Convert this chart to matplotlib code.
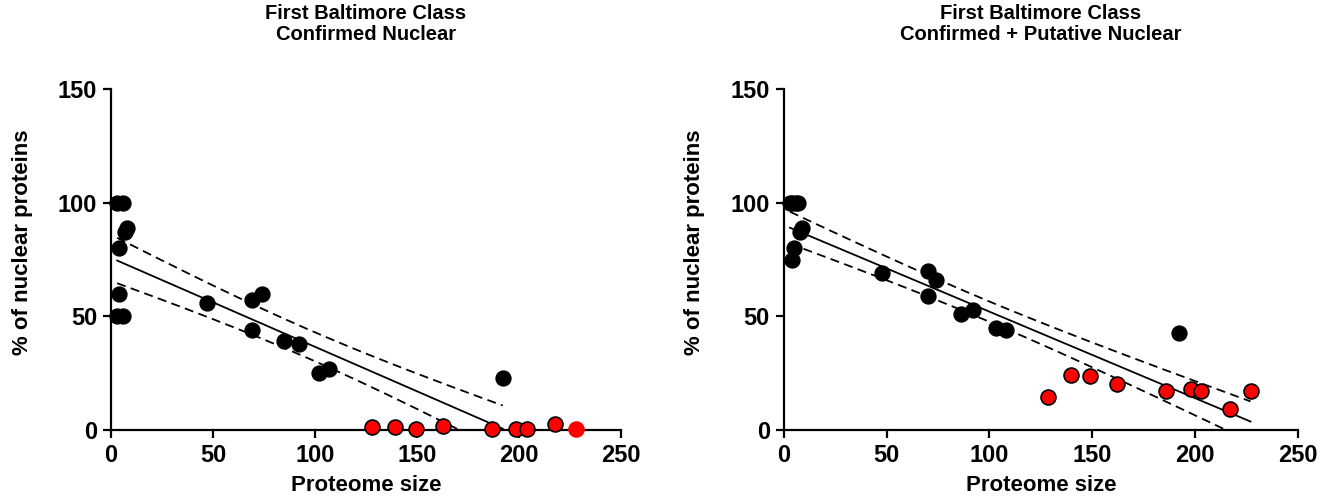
import numpy as np
import matplotlib
matplotlib.use("Agg")
import matplotlib.pyplot as plt

plt.rcParams['font.family'] = ['Liberation Sans', 'DejaVu Sans']
plt.rcParams['font.weight'] = 'bold'

# Confirmed nuclear (left)
conf_black_x = [3, 6, 7, 8, 4, 4, 3, 6, 47, 69, 74, 69, 85, 92, 102, 107, 192]
conf_black_y = [100, 100, 87, 89, 80, 60, 50, 50, 56, 57, 60, 44, 39, 38, 25, 27, 23]
conf_red_x = [128, 139, 149.5, 162.5, 186.5, 198.5, 204, 217.5]
conf_red_y = [1.2, 1.2, 0.4, 1.8, 0.4, 0.4, 0.4, 2.6]
conf_extra_x = [228]
conf_extra_y = [0.3]

# Confirmed + putative nuclear (right)
put_black_x = [3, 4, 6, 7, 8, 9, 5, 4, 48, 70, 74, 70, 86, 92, 103, 108, 192]
put_black_y = [100, 100, 100, 100, 87, 89, 80, 75, 69, 70, 66, 59, 51, 53, 45, 44, 42.5]
put_red_x = [128.5, 139.5, 149, 162, 186, 198, 203, 217, 227]
put_red_y = [14.7, 24.2, 23.8, 20.1, 17.2, 18.0, 17.2, 9.1, 17.2]

xticks = [0, 50, 100, 150, 200, 250]
yticks = [0, 50, 100, 150]

T95 = {24: 2.064}


def fit_band(x, y, xmin, xmax, n=200):
    # least squares line with 95% confidence band of the mean
    x = np.asarray(x, float)
    y = np.asarray(y, float)
    slope, icpt = np.polyfit(x, y, 1)
    resid = y - (slope * x + icpt)
    dof = len(x) - 2
    s = np.sqrt(np.sum(resid ** 2) / dof)
    sxx = np.sum((x - x.mean()) ** 2)
    xs = np.linspace(xmin, xmax, n)
    ys = slope * xs + icpt
    half = T95.get(dof, 2.06) * s * np.sqrt(1 / len(x) + (xs - x.mean()) ** 2 / sxx)
    return xs, ys, ys - half, ys + half


def draw_fit(ax, xs, ys, lo, hi):
    ax.plot(xs, ys, color='black', lw=1.3)
    ax.plot(xs, lo, color='black', lw=1.3, ls=(0, (5, 3)))
    ax.plot(xs, hi, color='black', lw=1.3, ls=(0, (5, 3)))


def style(ax, title):
    ax.set_xlim(0, 250)
    ax.set_ylim(0, 150)
    ax.set_xticks(xticks)
    ax.set_yticks(yticks)
    for side in ['top', 'right']:
        ax.spines[side].set_visible(False)
    for side in ['left', 'bottom']:
        ax.spines[side].set_linewidth(1.6)
    ax.tick_params(width=1.6, length=6, labelsize=17, pad=4)
    for lab in ax.get_xticklabels() + ax.get_yticklabels():
        lab.set_fontweight('bold')
    ax.set_xlabel('Proteome size', fontsize=16, fontweight='bold', labelpad=6)
    ax.set_ylabel('% of nuclear proteins', fontsize=16, fontweight='bold')
    ax.yaxis.set_label_coords(-0.153, 0.55)
    ax.set_title(title, fontsize=14.5, fontweight='bold', pad=35, linespacing=1.15)


fig = plt.figure(figsize=(13.33, 5), dpi=100)
ax1 = fig.add_axes([0.0833, 0.14, 0.3826, 0.682])
ax2 = fig.add_axes([0.588, 0.14, 0.3856, 0.682])

# left: fit on every point, drawn across the black x range
left_x = conf_black_x + conf_red_x + conf_extra_x
left_y = conf_black_y + conf_red_y + conf_extra_y
draw_fit(ax1, *fit_band(left_x, left_y, min(conf_black_x), max(conf_black_x)))
ax1.scatter(conf_black_x, conf_black_y, s=115, color='black', zorder=3, clip_on=False)
ax1.scatter(conf_red_x, conf_red_y, s=115, color='red', edgecolors='black',
            linewidths=1.2, zorder=3, clip_on=False)
ax1.scatter(conf_extra_x, conf_extra_y, s=115, color='red', edgecolors='red',
            linewidths=1.2, zorder=3, clip_on=False)
style(ax1, 'First Baltimore Class\nConfirmed Nuclear')

# right: fit on every point over the full x range
right_x = put_black_x + put_red_x
right_y = put_black_y + put_red_y
draw_fit(ax2, *fit_band(right_x, right_y, min(right_x), max(right_x)))
ax2.scatter(put_black_x, put_black_y, s=115, color='black', zorder=3, clip_on=False)
ax2.scatter(put_red_x, put_red_y, s=115, color='red', edgecolors='black',
            linewidths=1.2, zorder=3, clip_on=False)
style(ax2, 'First Baltimore Class\nConfirmed + Putative Nuclear')

fig.savefig('out.png', dpi=100)
